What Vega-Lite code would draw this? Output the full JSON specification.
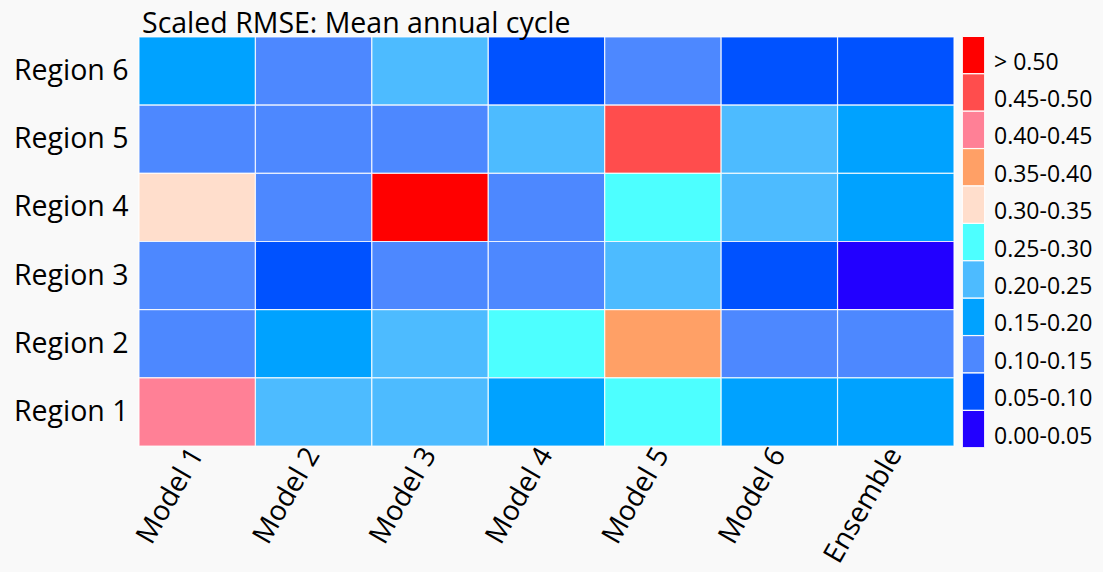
{
  "$schema": "https://vega.github.io/schema/vega-lite/v6.json",
  "autosize": {"type": "none"},
  "width": 815,
  "height": 409,
  "padding": {"left": 139, "top": 37, "right": 149, "bottom": 126},
  "background": "#f9f9f9",
  "title": {
    "text": "Scaled RMSE: Mean annual cycle",
    "anchor": "start",
    "frame": "group",
    "font": "Open Sans",
    "fontSize": 28.5,
    "fontWeight": "normal",
    "color": "#000000",
    "offset": -2,
    "dx": 3
  },
  "data": {
    "values": [
      {"region": "Region 6", "model": "Model 1", "range": "0.15-0.20"},
      {"region": "Region 6", "model": "Model 2", "range": "0.10-0.15"},
      {"region": "Region 6", "model": "Model 3", "range": "0.20-0.25"},
      {"region": "Region 6", "model": "Model 4", "range": "0.05-0.10"},
      {"region": "Region 6", "model": "Model 5", "range": "0.10-0.15"},
      {"region": "Region 6", "model": "Model 6", "range": "0.05-0.10"},
      {"region": "Region 6", "model": "Ensemble", "range": "0.05-0.10"},
      {"region": "Region 5", "model": "Model 1", "range": "0.10-0.15"},
      {"region": "Region 5", "model": "Model 2", "range": "0.10-0.15"},
      {"region": "Region 5", "model": "Model 3", "range": "0.10-0.15"},
      {"region": "Region 5", "model": "Model 4", "range": "0.20-0.25"},
      {"region": "Region 5", "model": "Model 5", "range": "0.45-0.50"},
      {"region": "Region 5", "model": "Model 6", "range": "0.20-0.25"},
      {"region": "Region 5", "model": "Ensemble", "range": "0.15-0.20"},
      {"region": "Region 4", "model": "Model 1", "range": "0.30-0.35"},
      {"region": "Region 4", "model": "Model 2", "range": "0.10-0.15"},
      {"region": "Region 4", "model": "Model 3", "range": "> 0.50"},
      {"region": "Region 4", "model": "Model 4", "range": "0.10-0.15"},
      {"region": "Region 4", "model": "Model 5", "range": "0.25-0.30"},
      {"region": "Region 4", "model": "Model 6", "range": "0.20-0.25"},
      {"region": "Region 4", "model": "Ensemble", "range": "0.15-0.20"},
      {"region": "Region 3", "model": "Model 1", "range": "0.10-0.15"},
      {"region": "Region 3", "model": "Model 2", "range": "0.05-0.10"},
      {"region": "Region 3", "model": "Model 3", "range": "0.10-0.15"},
      {"region": "Region 3", "model": "Model 4", "range": "0.10-0.15"},
      {"region": "Region 3", "model": "Model 5", "range": "0.20-0.25"},
      {"region": "Region 3", "model": "Model 6", "range": "0.05-0.10"},
      {"region": "Region 3", "model": "Ensemble", "range": "0.00-0.05"},
      {"region": "Region 2", "model": "Model 1", "range": "0.10-0.15"},
      {"region": "Region 2", "model": "Model 2", "range": "0.15-0.20"},
      {"region": "Region 2", "model": "Model 3", "range": "0.20-0.25"},
      {"region": "Region 2", "model": "Model 4", "range": "0.25-0.30"},
      {"region": "Region 2", "model": "Model 5", "range": "0.35-0.40"},
      {"region": "Region 2", "model": "Model 6", "range": "0.10-0.15"},
      {"region": "Region 2", "model": "Ensemble", "range": "0.10-0.15"},
      {"region": "Region 1", "model": "Model 1", "range": "0.40-0.45"},
      {"region": "Region 1", "model": "Model 2", "range": "0.20-0.25"},
      {"region": "Region 1", "model": "Model 3", "range": "0.20-0.25"},
      {"region": "Region 1", "model": "Model 4", "range": "0.15-0.20"},
      {"region": "Region 1", "model": "Model 5", "range": "0.25-0.30"},
      {"region": "Region 1", "model": "Model 6", "range": "0.15-0.20"},
      {"region": "Region 1", "model": "Ensemble", "range": "0.15-0.20"}
    ]
  },
  "mark": {"type": "rect", "stroke": "#ffffff", "strokeWidth": 1.2, "strokeOpacity": 0.8},
  "encoding": {
    "x": {
      "field": "model",
      "type": "nominal",
      "sort": ["Model 1", "Model 2", "Model 3", "Model 4", "Model 5", "Model 6", "Ensemble"],
      "scale": {"paddingInner": 0, "paddingOuter": 0},
      "axis": {
        "title": null,
        "domain": false,
        "ticks": false,
        "labelAngle": -60,
        "labelFont": "Open Sans",
        "labelFontSize": 28,
        "labelColor": "#000000",
        "labelPadding": 4
      }
    },
    "y": {
      "field": "region",
      "type": "nominal",
      "sort": ["Region 6", "Region 5", "Region 4", "Region 3", "Region 2", "Region 1"],
      "scale": {"paddingInner": 0, "paddingOuter": 0},
      "axis": {
        "title": null,
        "domain": false,
        "ticks": false,
        "labelFont": "Open Sans",
        "labelFontSize": 28.5,
        "labelColor": "#000000",
        "labelPadding": 11
      }
    },
    "color": {
      "field": "range",
      "type": "nominal",
      "scale": {
        "domain": ["> 0.50", "0.45-0.50", "0.40-0.45", "0.35-0.40", "0.30-0.35", "0.25-0.30", "0.20-0.25", "0.15-0.20", "0.10-0.15", "0.05-0.10", "0.00-0.05"],
        "range": ["#ff0000", "#ff4d4d", "#ff8096", "#ffa066", "#ffdecc", "#4dffff", "#4dbbff", "#00a2ff", "#4d88ff", "#0052ff", "#2200ff"]
      },
      "legend": {
        "title": null,
        "orient": "none",
        "legendX": 815,
        "legendY": 6,
        "padding": 0,
        "rowPadding": -4.6,
        "symbolType": "M-0.6,-1.4H0.6V0.6H-0.6Z",
        "symbolSize": 1384,
        "symbolStrokeColor": "#ffffff",
        "symbolStrokeWidth": 1,
        "symbolOpacity": 1,
        "labelFont": "Open Sans",
        "labelFontSize": 23,
        "labelColor": "#000000",
        "labelOffset": 1,
        "labelBaseline": "middle",
        "labelLimit": 200
      }
    }
  },
  "config": {"view": {"stroke": null}}
}
